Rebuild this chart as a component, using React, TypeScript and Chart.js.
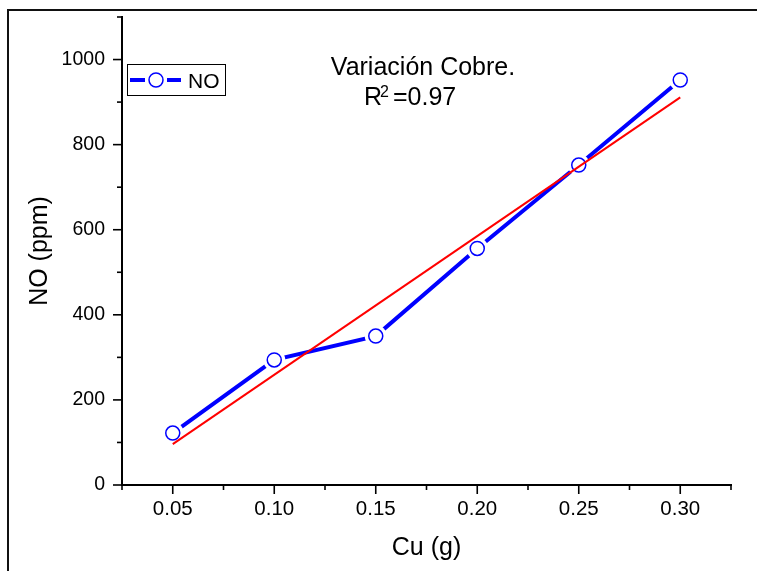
import React, { useEffect, useRef } from "react";
import { Chart, registerables } from "chart.js";

Chart.register(...registerables);

const cuValues = [0.05, 0.1, 0.15, 0.2, 0.25, 0.3];
const noValues = [122, 294, 350, 556, 752, 952];
const fitX = [0.05, 0.3];
const fitY = [96, 911];
const xTitle = "Cu (g)";
const yTitle = "NO (ppm)";
const legendLabel = "NO";
const annotTitle = "Variación Cobre.";
const annotR2 = "0.97";

const FONT = "'Liberation Sans', Arial, sans-serif";
const BLUE = "#0000ff";
const RED = "#ff0000";

const decorPlugin = {
  id: "decor",
  afterDraw(chart: any) {
    const ctx = chart.ctx;
    const xs = chart.scales.x;
    const ys = chart.scales.y;
    ctx.save();
    ctx.strokeStyle = "#000";
    ctx.lineWidth = 1.6;
    xs.ticks.forEach((t: any) => {
      const px = xs.getPixelForValue(t.value);
      const major = Math.round(t.value / 0.025) % 2 === 0;
      ctx.beginPath();
      ctx.moveTo(px, xs.top);
      ctx.lineTo(px, xs.top + (major ? 9 : 5));
      ctx.stroke();
    });
    ys.ticks.forEach((t: any) => {
      const py = ys.getPixelForValue(t.value);
      const major = Math.round(t.value / 100) % 2 === 0;
      ctx.beginPath();
      ctx.moveTo(ys.right, py);
      ctx.lineTo(ys.right - (major ? 9 : 5), py);
      ctx.stroke();
    });

    // annotation
    ctx.fillStyle = "#000";
    ctx.textBaseline = "alphabetic";
    ctx.font = `25px ${FONT}`;
    ctx.textAlign = "center";
    ctx.fillText(annotTitle, 423, 75);
    ctx.textAlign = "left";
    ctx.fillText("R", 364, 105);
    ctx.font = `16px ${FONT}`;
    ctx.fillText("2", 380, 97);
    ctx.font = `25px ${FONT}`;
    ctx.fillText("=" + annotR2, 393, 105);

    // legend
    ctx.lineWidth = 1;
    ctx.strokeStyle = "#000";
    ctx.strokeRect(127.5, 64.5, 98, 31);
    ctx.strokeStyle = BLUE;
    ctx.lineWidth = 4;
    ctx.beginPath();
    ctx.moveTo(130, 80);
    ctx.lineTo(145, 80);
    ctx.moveTo(167, 80);
    ctx.lineTo(181, 80);
    ctx.stroke();
    ctx.lineWidth = 1.5;
    ctx.fillStyle = "#fff";
    ctx.beginPath();
    ctx.arc(156, 80, 7, 0, Math.PI * 2);
    ctx.fill();
    ctx.stroke();
    ctx.fillStyle = "#000";
    ctx.font = `21px ${FONT}`;
    ctx.fillText(legendLabel, 188, 88);
    ctx.restore();
  },
};

export default function App() {
  const ref = useRef<HTMLCanvasElement | null>(null);
  useEffect(() => {
    if (!ref.current) return;
    const pts = cuValues.map((x, i) => ({ x, y: noValues[i] }));
    const fit = fitX.map((x, i) => ({ x, y: fitY[i] }));
    const chart = new Chart(ref.current, {
      type: "line",
      data: {
        datasets: [
          {
            label: "fit",
            data: fit,
            borderColor: RED,
            borderWidth: 2,
            pointRadius: 0,
            order: 0,
          },
          {
            label: "markers",
            data: pts,
            showLine: false,
            pointRadius: 7,
            pointBorderWidth: 1.5,
            pointBorderColor: BLUE,
            pointBackgroundColor: "#fff",
            order: 1,
          },
          {
            label: "halo",
            data: pts,
            showLine: false,
            pointRadius: 11,
            pointBorderWidth: 0,
            pointBackgroundColor: "#fff",
            pointBorderColor: "#fff",
            order: 2,
          },
          {
            label: legendLabel,
            data: pts,
            borderColor: BLUE,
            borderWidth: 4,
            pointRadius: 0,
            order: 3,
          },
        ],
      },
      options: {
        animation: false,
        responsive: false,
        events: [],
        layout: { padding: { left: 0, top: 17, right: 26, bottom: 0 } },
        plugins: {
          legend: { display: false },
          tooltip: { enabled: false },
        },
        scales: {
          x: {
            type: "linear",
            min: 0.025,
            max: 0.325,
            grid: { display: false, drawTicks: false },
            border: { display: true, color: "#000", width: 2 },
            ticks: {
              stepSize: 0.025,
              autoSkip: false,
              maxRotation: 0,
              padding: 12,
              color: "#000",
              font: { family: FONT, size: 20.5 },
              callback: (v: any) =>
                Math.round(Number(v) / 0.025) % 2 === 0 ? Number(v).toFixed(2) : "",
            },
            title: {
              display: true,
              text: xTitle,
              color: "#000",
              font: { family: FONT, size: 25 },
              padding: { top: 0, bottom: 8 },
            },
            afterFit: (s: any) => {
              s.height = 86;
              s.paddingLeft = 0;
              s.paddingRight = 0;
            },
          },
          y: {
            type: "linear",
            min: 0,
            max: 1100,
            grid: { display: false, drawTicks: false },
            border: { display: true, color: "#000", width: 2 },
            ticks: {
              stepSize: 100,
              autoSkip: false,
              padding: 17,
              color: "#000",
              font: { family: FONT, size: 19.5 },
              callback: (v: any) =>
                Math.round(Number(v) / 100) % 2 === 0 ? String(v) : "",
            },
            title: {
              display: true,
              text: yTitle,
              color: "#000",
              font: { family: FONT, size: 25 },
              padding: { top: 25, bottom: 0 },
            },
            afterFit: (s: any) => {
              s.width = 122;
              s.paddingTop = 0;
              s.paddingBottom = 0;
            },
          },
        },
      },
      plugins: [decorPlugin],
    });
    return () => chart.destroy();
  }, []);

  return (
    <div
      style={{
        position: "absolute",
        left: 0,
        top: 0,
        width: 757,
        height: 571,
        overflow: "hidden",
        background: "#fff",
      }}
    >
      <div
        style={{
          position: "absolute",
          left: 7,
          top: 9,
          width: 800,
          height: 600,
          borderLeft: "2px solid #111",
          borderTop: "2px solid #111",
        }}
      />
      <canvas
        ref={ref}
        width={757}
        height={571}
        style={{ position: "absolute", left: 0, top: 0, width: 757, height: 571 }}
      />
    </div>
  );
}
